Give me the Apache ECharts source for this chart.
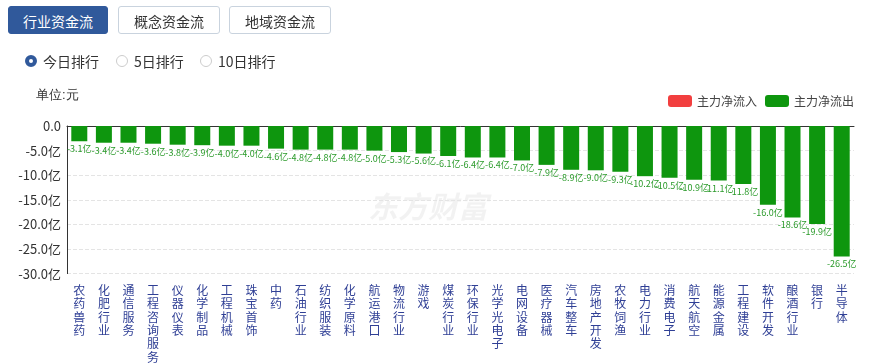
<!DOCTYPE html>
<html>
<head>
<meta charset="utf-8">
<script src="https://cdn.jsdelivr.net/npm/echarts@6/dist/echarts.min.js"></script>
<style>
html,body{margin:0;padding:0;background:#fff;font-family:"Microsoft YaHei","Noto Sans CJK SC",sans-serif;}
#wrap{position:relative;width:871px;height:364px;overflow:hidden;}
#chart{position:absolute;left:0;top:0;width:871px;height:364px;}
.btn{position:absolute;top:6px;height:28px;line-height:28px;width:100px;text-align:center;font-size:14px;border:1px solid #c9d3de;border-radius:3px;color:#333;background:#fff;box-sizing:border-box;}
.btn.on{background:#30599b;border-color:#30599b;color:#fff;}
.radio{position:absolute;top:52px;font-size:14px;color:#333;line-height:18px;}
.radio i{position:absolute;top:3px;left:-18px;width:12px;height:12px;border-radius:50%;border:1px solid #ccc;box-sizing:border-box;}
.radio.on i{border:4px solid #30599b;}
</style>
</head>
<body>
<div id="wrap">
<div id="chart"></div>
<div class="btn on" style="left:8px;">行业资金流</div>
<div class="btn" style="left:118px;width:102px;">概念资金流</div>
<div class="btn" style="left:229px;width:102px;">地域资金流</div>
<div class="radio on" style="left:43px;"><i></i>今日排行</div>
<div class="radio" style="left:134px;"><i></i>5日排行</div>
<div class="radio" style="left:218px;"><i></i>10日排行</div>
</div>
<script>
const categories = ["农药兽药","化肥行业","通信服务","工程咨询服务","仪器仪表","化学制品","工程机械","珠宝首饰","中药","石油行业","纺织服装","化学原料","航运港口","物流行业","游戏","煤炭行业","环保行业","光学光电子","电网设备","医疗器械","汽车整车","房地产开发","农牧饲渔","电力行业","消费电子","航天航空","能源金属","工程建设","软件开发","酿酒行业","银行","半导体"];
const outflow = [-3.1,-3.4,-3.4,-3.6,-3.8,-3.9,-4.0,-4.0,-4.6,-4.8,-4.8,-4.8,-5.0,-5.3,-5.6,-6.1,-6.4,-6.4,-7.0,-7.9,-8.9,-9.0,-9.3,-10.2,-10.5,-10.9,-11.1,-11.8,-16.0,-18.6,-19.9,-26.5];
const inflow = categories.map(() => null);
const seriesNames = ["主力净流入","主力净流出"];
const yTicks = {min:-30, max:0, interval:5};

const chart = echarts.init(document.getElementById('chart'));
chart.setOption({
  animation:false,
  textStyle:{fontFamily:'"Microsoft YaHei","Noto Sans CJK SC",sans-serif'},
  legend:{
    data:seriesNames, right:12, top:90, itemWidth:24, itemHeight:12, itemGap:8,
    icon:'roundRect', textStyle:{fontSize:12,color:'#444'}
  },
  graphic:[
    {type:'text', left:36, top:89, style:{text:'单位:元', fontSize:13, fill:'#333', font:'13px "Microsoft YaHei","Noto Sans CJK SC",sans-serif'}},
    {type:'text', left:368, top:192, z:-1, style:{text:'东方财富', fill:'rgba(0,0,0,0.05)', font:'italic bold 30px "Noto Sans CJK SC",sans-serif'}}
  ],
  grid:{left:67, right:17, top:126, bottom:85},
  xAxis:[
    {type:'category', data:categories, position:'bottom',
     axisLine:{show:false}, axisTick:{show:false},
     axisLabel:{interval:0, margin:10, fontSize:12, lineHeight:13.4, color:'#2f3f95', verticalAlign:'top',
       formatter:v=>v.split('').join('\n')}},
    {type:'category', data:categories, position:'top',
     axisLine:{show:true, lineStyle:{color:'#333'}}, axisTick:{show:false}, axisLabel:{show:false}}
  ],
  yAxis:{
    type:'value', min:yTicks.min, max:yTicks.max, interval:yTicks.interval,
    axisLine:{show:true, lineStyle:{color:'#333'}}, axisTick:{show:false},
    axisLabel:{fontSize:13, color:'#333', margin:6, formatter:v=> v===0 ? '0.0' : v.toFixed(1)+'亿'},
    splitLine:{lineStyle:{type:'dashed', color:'#e4e4e4'}}
  },
  series:[
    {name:seriesNames[0], type:'bar', stack:'a', data:inflow, itemStyle:{color:'#f23f3f'}, barWidth:16},
    {name:seriesNames[1], type:'bar', stack:'a', data:outflow, itemStyle:{color:'#0e960e'}, barWidth:16,
     label:{show:true, position:'bottom', distance:3, fontSize:9, color:'#2a9a2a', formatter:p=>p.value.toFixed(1)+'亿'}}
  ]
});
</script>
</body>
</html>
